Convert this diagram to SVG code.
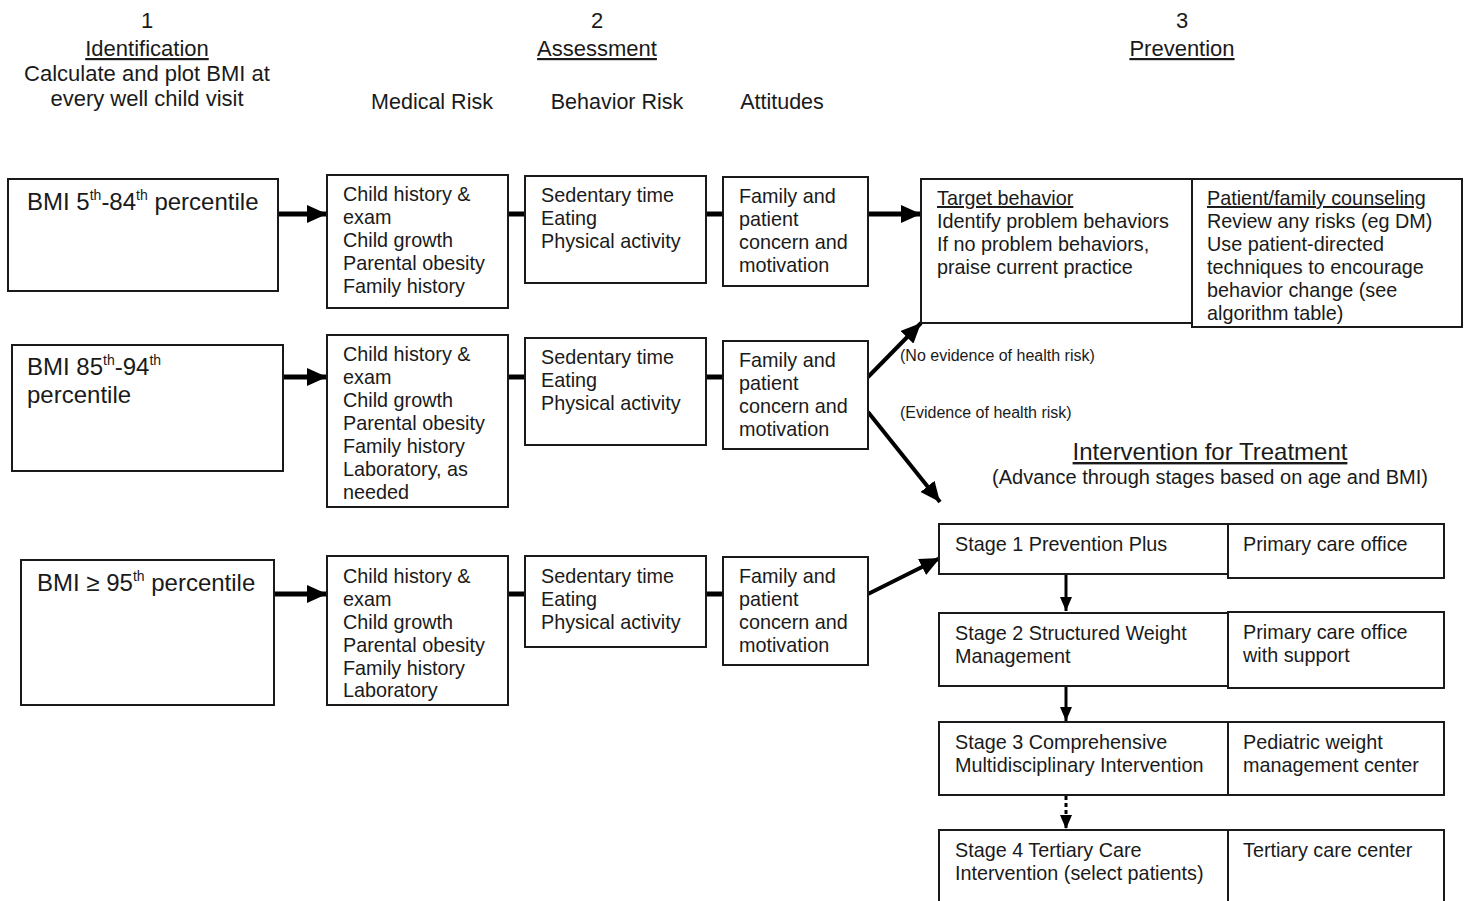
<svg xmlns="http://www.w3.org/2000/svg" width="1468" height="901" viewBox="0 0 1468 901">
<style>
text{font-family:"Liberation Sans",Arial,sans-serif;fill:#1a1a1a}
.h{font-size:22px;text-anchor:middle}
.u{text-decoration:underline}
.t{font-size:19.8px}
.b{font-size:24px}
.s{font-size:14px}
.lab{font-size:16px}
rect{fill:#fff;stroke:#1a1a1a;stroke-width:2}
.c{stroke:#000;fill:none}
</style>
<defs>
<marker id="ah" markerUnits="userSpaceOnUse" markerWidth="20" markerHeight="18" refX="20" refY="9" orient="auto"><path d="M0,0 L20,9 L0,18 z" fill="#000"/></marker>
<marker id="ad" markerUnits="userSpaceOnUse" markerWidth="20" markerHeight="18" refX="20" refY="9" orient="auto"><path d="M0,0 L20,9 L0,18 z" fill="#000"/></marker>
<marker id="as" markerUnits="userSpaceOnUse" markerWidth="14" markerHeight="12" refX="14" refY="6" orient="auto"><path d="M0,0 L14,6 L0,12 z" fill="#000"/></marker>
</defs>

<g id="headers">
<text class="h" x="147" y="28">1</text>
<text class="h u" x="147" y="56">Identification</text>
<text class="h" x="147" y="81">Calculate and plot BMI at</text>
<text class="h" x="147" y="106">every well child visit</text>
<text class="h" x="597" y="28">2</text>
<text class="h u" x="597" y="56">Assessment</text>
<text class="h" x="1182" y="28">3</text>
<text class="h u" x="1182" y="56">Prevention</text>
<text class="h" x="432" y="109" style="font-size:21.5px">Medical Risk</text>
<text class="h" x="617" y="109" style="font-size:21.5px">Behavior Risk</text>
<text class="h" x="782" y="109" style="font-size:21.5px">Attitudes</text>
<text class="h u" x="1210" y="460" style="font-size:24px">Intervention for Treatment</text>
<text class="h" x="1210" y="484" style="font-size:20px">(Advance through stages based on age and BMI)</text>
</g>

<g id="connectors">
<line class="c" x1="278" y1="214" x2="327" y2="214" stroke-width="5" marker-end="url(#ah)"/>
<line class="c" x1="508" y1="214" x2="525" y2="214" stroke-width="5"/>
<line class="c" x1="706" y1="214" x2="723" y2="214" stroke-width="5"/>
<line class="c" x1="868" y1="214" x2="921" y2="214" stroke-width="5" marker-end="url(#ah)"/>
<line class="c" x1="283" y1="377" x2="327" y2="377" stroke-width="5" marker-end="url(#ah)"/>
<line class="c" x1="508" y1="377" x2="525" y2="377" stroke-width="5"/>
<line class="c" x1="706" y1="377" x2="723" y2="377" stroke-width="5"/>
<line class="c" x1="868" y1="377" x2="921" y2="323" stroke-width="4" marker-end="url(#ad)"/>
<line class="c" x1="868" y1="412" x2="940" y2="502" stroke-width="4" marker-end="url(#ad)"/>
<line class="c" x1="274" y1="594" x2="327" y2="594" stroke-width="5" marker-end="url(#ah)"/>
<line class="c" x1="508" y1="594" x2="525" y2="594" stroke-width="5"/>
<line class="c" x1="706" y1="594" x2="723" y2="594" stroke-width="5"/>
<line class="c" x1="868" y1="594" x2="940" y2="558" stroke-width="4" marker-end="url(#ad)"/>
<line class="c" x1="1066" y1="574" x2="1066" y2="611" stroke-width="3" marker-end="url(#as)"/>
<line class="c" x1="1066" y1="686" x2="1066" y2="721" stroke-width="3" marker-end="url(#as)"/>
<line class="c" x1="1066" y1="796" x2="1066" y2="829" stroke-width="3" stroke-dasharray="4 3" marker-end="url(#as)"/>
<text class="lab" x="900" y="361">(No evidence of health risk)</text>
<text class="lab" x="900" y="418">(Evidence of health risk)</text>
</g>

<g id="bmi1"><rect x="8" y="179" width="270" height="112"/>
<text class="b" x="27" y="210">BMI 5<tspan class="s" dy="-10">th</tspan><tspan dy="10">-84</tspan><tspan class="s" dy="-10">th</tspan><tspan dy="10"> percentile</tspan></text></g>
<g id="med1"><rect x="327" y="175" width="181" height="133"/>
<text class="t" x="343" y="201">Child history &amp;</text><text class="t" x="343" y="224">exam</text><text class="t" x="343" y="247">Child growth</text><text class="t" x="343" y="270">Parental obesity</text><text class="t" x="343" y="293">Family history</text></g>
<g id="beh1"><rect x="525" y="176" width="181" height="107"/>
<text class="t" x="541" y="202">Sedentary time</text><text class="t" x="541" y="225">Eating</text><text class="t" x="541" y="248">Physical activity</text></g>
<g id="att1"><rect x="723" y="177" width="145" height="109"/>
<text class="t" x="739" y="203">Family and</text><text class="t" x="739" y="226">patient</text><text class="t" x="739" y="249">concern and</text><text class="t" x="739" y="272">motivation</text></g>

<g id="target"><rect x="921" y="179" width="271" height="144"/>
<text class="t u" x="937" y="205">Target behavior</text><text class="t" x="937" y="228">Identify problem behaviors</text><text class="t" x="937" y="251">If no problem behaviors,</text><text class="t" x="937" y="274">praise current practice</text></g>
<g id="counsel"><rect x="1192" y="179" width="270" height="148"/>
<text class="t u" x="1207" y="205">Patient/family counseling</text><text class="t" x="1207" y="228">Review any risks (eg DM)</text><text class="t" x="1207" y="251">Use patient-directed</text><text class="t" x="1207" y="274">techniques to encourage</text><text class="t" x="1207" y="297">behavior change (see</text><text class="t" x="1207" y="320">algorithm table)</text></g>

<g id="bmi2"><rect x="12" y="345" width="271" height="126"/>
<text class="b" x="27" y="375">BMI 85<tspan class="s" dy="-10">th</tspan><tspan dy="10">-94</tspan><tspan class="s" dy="-10">th</tspan></text>
<text class="b" x="27" y="403">percentile</text></g>
<g id="med2"><rect x="327" y="335" width="181" height="172"/>
<text class="t" x="343" y="361">Child history &amp;</text><text class="t" x="343" y="384">exam</text><text class="t" x="343" y="407">Child growth</text><text class="t" x="343" y="430">Parental obesity</text><text class="t" x="343" y="453">Family history</text><text class="t" x="343" y="476">Laboratory, as</text><text class="t" x="343" y="499">needed</text></g>
<g id="beh2"><rect x="525" y="338" width="181" height="107"/>
<text class="t" x="541" y="364">Sedentary time</text><text class="t" x="541" y="387">Eating</text><text class="t" x="541" y="410">Physical activity</text></g>
<g id="att2"><rect x="723" y="341" width="145" height="108"/>
<text class="t" x="739" y="367">Family and</text><text class="t" x="739" y="390">patient</text><text class="t" x="739" y="413">concern and</text><text class="t" x="739" y="436">motivation</text></g>

<g id="bmi3"><rect x="21" y="560" width="253" height="145"/>
<text class="b" x="37" y="591">BMI ≥ 95<tspan class="s" dy="-10">th</tspan><tspan dy="10"> percentile</tspan></text></g>
<g id="med3"><rect x="327" y="556" width="181" height="149"/>
<text class="t" x="343" y="583">Child history &amp;</text><text class="t" x="343" y="606">exam</text><text class="t" x="343" y="629">Child growth</text><text class="t" x="343" y="652">Parental obesity</text><text class="t" x="343" y="675">Family history</text><text class="t" x="343" y="697">Laboratory</text></g>
<g id="beh3"><rect x="525" y="556" width="181" height="91"/>
<text class="t" x="541" y="583">Sedentary time</text><text class="t" x="541" y="606">Eating</text><text class="t" x="541" y="629">Physical activity</text></g>
<g id="att3"><rect x="723" y="557" width="145" height="108"/>
<text class="t" x="739" y="583">Family and</text><text class="t" x="739" y="606">patient</text><text class="t" x="739" y="629">concern and</text><text class="t" x="739" y="652">motivation</text></g>

<g id="stage1"><rect x="939" y="524" width="289" height="50"/><rect x="1228" y="524" width="216" height="54"/>
<text class="t" x="955" y="551">Stage 1 Prevention Plus</text><text class="t" x="1243" y="551">Primary care office</text></g>
<g id="stage2"><rect x="939" y="613" width="289" height="73"/><rect x="1228" y="612" width="216" height="76"/>
<text class="t" x="955" y="640">Stage 2 Structured Weight</text><text class="t" x="955" y="663">Management</text><text class="t" x="1243" y="639">Primary care office</text><text class="t" x="1243" y="662">with support</text></g>
<g id="stage3"><rect x="939" y="722" width="289" height="73"/><rect x="1228" y="722" width="216" height="73"/>
<text class="t" x="955" y="749">Stage 3 Comprehensive</text><text class="t" x="955" y="772">Multidisciplinary Intervention</text><text class="t" x="1243" y="749">Pediatric weight</text><text class="t" x="1243" y="772">management center</text></g>
<g id="stage4"><rect x="939" y="830" width="289" height="80"/><rect x="1228" y="830" width="216" height="80"/>
<text class="t" x="955" y="857">Stage 4 Tertiary Care</text><text class="t" x="955" y="880">Intervention (select patients)</text><text class="t" x="1243" y="857">Tertiary care center</text></g>
</svg>
